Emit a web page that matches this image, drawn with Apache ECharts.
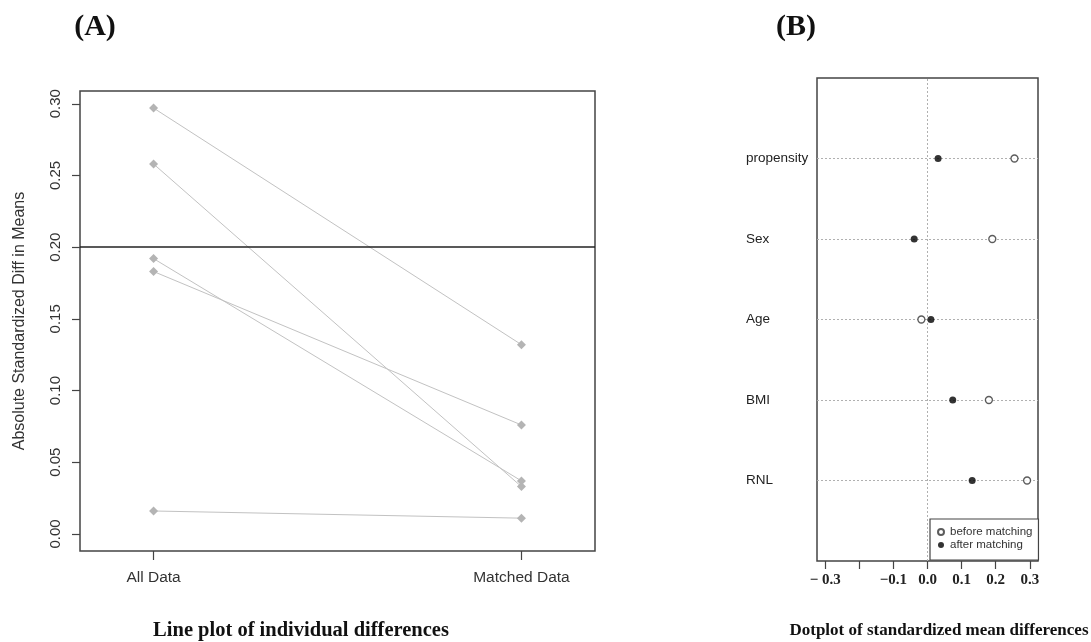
<!DOCTYPE html>
<html>
<head>
<meta charset="utf-8">
<script src="https://cdn.jsdelivr.net/npm/echarts@6/dist/echarts.min.js"></script>
<style>
html,body{margin:0;padding:0;background:#fff;}
#chart{width:1091px;height:642px;}
</style>
</head>
<body>
<div id="chart"></div>
<script>
// ---- data ----
const leftCategories = ['All Data', 'Matched Data'];
const covariates = ['propensity', 'Sex', 'Age', 'BMI', 'RNL'];
// absolute standardized differences (panel A), in covariate order
const absBefore = [0.258, 0.192, 0.016, 0.183, 0.297];
const absAfter  = [0.033, 0.037, 0.011, 0.076, 0.132];
// standardized mean differences (panel B), in covariate order
const diffBefore = [0.255, 0.190, -0.018, 0.180, 0.292];
const diffAfter  = [0.031, -0.039, 0.010, 0.074, 0.131];
// tick values / labels
const yTicksLeft = [0, 0.05, 0.10, 0.15, 0.20, 0.25, 0.30];
const rowPositions = [1, 2, 3, 4, 5];
const xTicksRight = [-0.3, -0.2, -0.1, 0, 0.1, 0.2, 0.3];
const xLabelValuesRight = [-0.3, -0.1, 0, 0.1, 0.2, 0.3];
const xLabelTextsRight = ['\u2212 0.3', '\u22120.1', '0.0', '0.1', '0.2', '0.3'];

const chart = echarts.init(document.getElementById('chart'), null, {renderer: 'canvas'});

const leftSeries = covariates.map((c, i) => ({
  type: 'line',
  name: 'pair-' + c,
  xAxisIndex: 0, yAxisIndex: 0,
  data: [[1, absBefore[i]], [2, absAfter[i]]],
  symbol: 'diamond',
  symbolSize: 9,
  itemStyle: {color: '#b4b4b4'},
  lineStyle: {color: '#c2c2c2', width: 1},
  z: 3,
  silent: true,
  animation: false
}));
leftSeries[0].markLine = {
  silent: true, symbol: 'none', animation: false,
  label: {show: false},
  lineStyle: {color: '#222', width: 1.5, type: 'solid'},
  data: [{yAxis: 0.2}]
};

const sans = '"Liberation Sans", Arial, sans-serif';
const serif = '"Liberation Serif", "Times New Roman", serif';

const option = {
  animation: false,
  backgroundColor: '#fff',
  grid: [
    {left: 80, top: 91, width: 515, height: 460, show: true, borderColor: '#444', borderWidth: 1.5, backgroundColor: 'transparent'},
    {left: 817, top: 78, width: 221, height: 483, show: true, borderColor: '#444', borderWidth: 1.5, backgroundColor: 'transparent'}
  ],
  xAxis: [
    {
      gridIndex: 0, type: 'value', min: 0.8, max: 2.2, position: 'bottom',
      axisLine: {show: false, onZero: false},
      axisTick: {show: true, length: 9, customValues: [1, 2], lineStyle: {color: '#444', width: 1.2}},
      axisLabel: {customValues: [1, 2], formatter: v => leftCategories[Math.round(v) - 1] || '',
        fontFamily: sans, fontSize: 15.5, color: '#333', margin: 19},
      splitLine: {show: false}
    },
    {
      gridIndex: 1, type: 'value', min: -0.324, max: 0.324, position: 'bottom',
      axisLine: {show: false, onZero: false},
      axisTick: {show: true, length: 8, customValues: xTicksRight, lineStyle: {color: '#444', width: 1.2}},
      axisLabel: {customValues: xLabelValuesRight,
        formatter: v => {
          const k = xLabelValuesRight.findIndex(t => Math.abs(t - v) < 1e-9);
          return k >= 0 ? xLabelTextsRight[k] : '';
        },
        fontFamily: serif, fontWeight: 'bold', fontSize: 15, color: '#222', margin: 12},
      splitLine: {show: false}
    }
  ],
  yAxis: [
    {
      gridIndex: 0, type: 'value', min: -0.0119, max: 0.3089, position: 'left',
      axisLine: {show: false, onZero: false},
      axisTick: {show: true, length: 8, customValues: yTicksLeft, lineStyle: {color: '#444', width: 1.2}},
      axisLabel: {customValues: yTicksLeft, rotate: 90, formatter: v => v.toFixed(2),
        fontFamily: sans, fontSize: 15, color: '#333', margin: 17},
      splitLine: {show: false},
      name: 'Absolute Standardized Diff in Means',
      nameLocation: 'middle', nameRotate: 90, nameGap: 52,
      nameTextStyle: {fontFamily: sans, fontSize: 16, color: '#333'}
    },
    {
      gridIndex: 1, type: 'value', min: 0, max: 6, position: 'left',
      axisLine: {show: false, onZero: false},
      axisTick: {show: false},
      axisLabel: {customValues: rowPositions, formatter: v => covariates[5 - Math.round(v)] || '',
        align: 'left', margin: 71, fontFamily: sans, fontSize: 13.5, color: '#222'},
      splitLine: {show: false}
    }
  ],
  legend: {
    data: ['before matching', 'after matching'],
    orient: 'vertical',
    left: 930, top: 519,
    padding: [7, 6, 9, 7],
    itemGap: 1,
    itemWidth: 6, itemHeight: 6,
    icon: 'circle',
    backgroundColor: '#fff',
    borderColor: '#444', borderWidth: 1.2, borderRadius: 0,
    textStyle: {fontFamily: sans, fontSize: 11.5, color: '#333', padding: [0, 0, 0, 1]},
    selectedMode: false,
    z: 10
  },
  series: leftSeries.concat([
    {
      type: 'scatter', name: 'before matching',
      xAxisIndex: 1, yAxisIndex: 1,
      data: diffBefore.map((v, i) => [v, 5 - i]),
      symbol: 'circle', symbolSize: 7,
      itemStyle: {color: '#fff', borderColor: '#333', borderWidth: 1.3},
      z: 4,
      markLine: {
        silent: true, symbol: 'none', animation: false,
        z: 1,
        label: {show: false},
        lineStyle: {color: '#b0b0b0', width: 1, type: [2, 2]},
        data: [{xAxis: 0}].concat(rowPositions.map(r => ({yAxis: r})))
      }
    },
    {
      type: 'scatter', name: 'after matching',
      xAxisIndex: 1, yAxisIndex: 1,
      data: diffAfter.map((v, i) => [v, 5 - i]),
      symbol: 'circle', symbolSize: 7,
      itemStyle: {color: '#000'},
      z: 4
    }
  ]),
  graphic: [
    {type: 'text', x: 95, y: 27, style: {text: '(A)', font: 'bold 30px ' + serif, fill: '#111', align: 'center', verticalAlign: 'middle'}},
    {type: 'text', x: 796, y: 27, style: {text: '(B)', font: 'bold 30px ' + serif, fill: '#111', align: 'center', verticalAlign: 'middle'}},
    {type: 'text', x: 301, y: 631, style: {text: 'Line plot of individual differences', font: 'bold 20.5px ' + serif, fill: '#111', align: 'center', verticalAlign: 'middle'}},
    {type: 'text', x: 939, y: 631, style: {text: 'Dotplot of standardized mean differences', font: 'bold 17px ' + serif, fill: '#111', align: 'center', verticalAlign: 'middle'}}
  ]
};
chart.setOption(option);
</script>
</body>
</html>
